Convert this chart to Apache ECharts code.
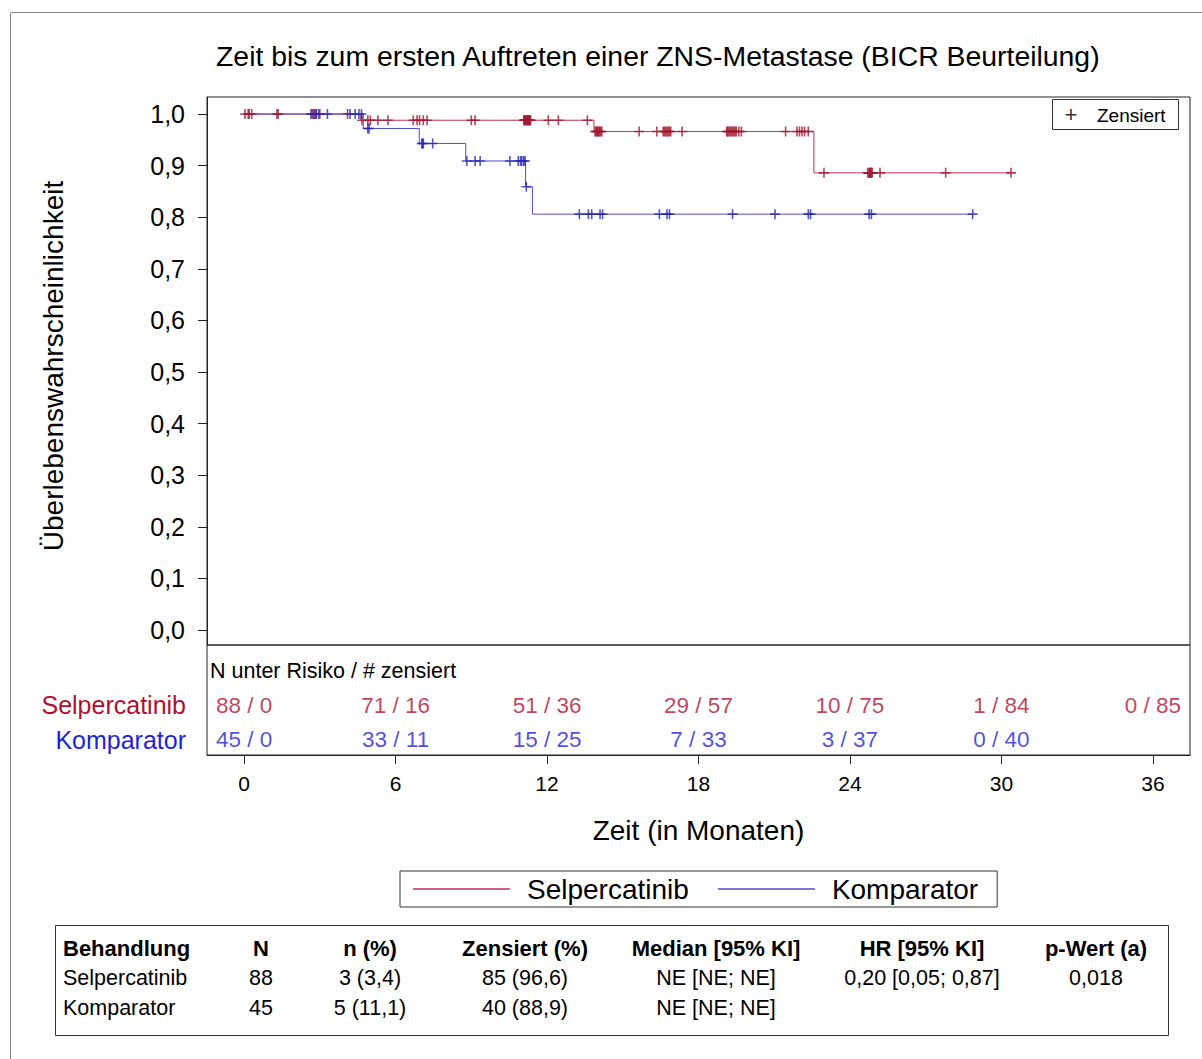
<!DOCTYPE html>
<html>
<head>
<meta charset="utf-8">
<script src="https://cdn.jsdelivr.net/npm/echarts@6/dist/echarts.min.js"></script>
<style>
  html, body { margin: 0; padding: 0; background: #fff; }
  #chart { width: 1202px; height: 1059px; }
</style>
</head>
<body>
<div id="chart"></div>
<script>
// ---- Data ----
const timeTicks = [0, 6, 12, 18, 24, 30, 36];
const survTicks = [0, 0.1, 0.2, 0.3, 0.4, 0.5, 0.6, 0.7, 0.8, 0.9, 1.0];
const groupNames = ['Selpercatinib', 'Komparator'];

// Kaplan-Meier steps (event times in months, survival after each step)
const selStepTimes = [0, 4.62, 13.86, 22.57];
const selStepSurv = [1.0, 0.988, 0.966, 0.886];
const kompStepTimes = [0, 4.72, 6.94, 8.78, 11.15, 11.42];
const kompStepSurv = [1.0, 0.972, 0.943, 0.909, 0.859, 0.806];

// Censoring times (months)
const selCensored = [
  0.04, 0.16, 0.2, 0.3, 1.3, 1.35, 2.7, 2.8, 2.85, 3.0, 4.1,
  4.67, 4.9, 5.0, 5.3, 5.7,
  6.7, 6.85, 6.95, 7.1, 7.25, 9.0, 9.15,
  11.08, 11.1, 11.12, 11.15, 11.18, 11.2, 11.22, 11.25, 11.25, 11.28, 11.3, 11.32, 11.35,
  12.05, 12.45, 13.6, 13.9, 13.95, 13.98, 14.0, 14.05, 14.08, 14.12, 14.17,
  15.65, 16.35, 16.6, 16.65, 16.7, 16.75, 16.8, 16.85, 16.9, 17.35,
  19.12, 19.15, 19.2, 19.25, 19.3, 19.35, 19.4, 19.45, 19.5, 19.6, 19.7,
  21.45, 21.9, 22.0, 22.1, 22.2, 22.35, 22.97,
  24.7, 24.75, 24.78, 24.8, 24.82, 24.85, 24.88, 25.19, 27.79,
  30.38
];
const kompCensored = [
  2.65, 2.75, 2.85, 2.95, 3.3, 4.2, 4.4, 4.55, 4.65, 4.9, 4.95,
  7.04, 7.07, 7.1, 7.47, 8.82, 9.15, 9.35, 10.53, 10.86, 10.95, 11.0, 11.08, 11.13, 11.18,
  13.28, 13.64, 13.77, 14.1, 14.2, 16.45, 16.75, 16.85,
  19.35, 21.03, 22.35, 22.44,
  24.76, 24.85, 28.86
];

// Numbers at risk / censored at each tick
const riskSel = ['88 / 0', '71 / 16', '51 / 36', '29 / 57', '10 / 75', '1 / 84', '0 / 85'];
const riskKomp = ['45 / 0', '33 / 11', '15 / 25', '7 / 33', '3 / 37', '0 / 40'];

// Summary table
const tableHeader = ['Behandlung', 'N', 'n (%)', 'Zensiert (%)', 'Median [95% KI]', 'HR [95% KI]', 'p-Wert (a)'];
const tableRowSel = ['Selpercatinib', '88', '3 (3,4)', '85 (96,6)', 'NE [NE; NE]', '0,20 [0,05; 0,87]', '0,018'];
const tableRowKomp = ['Komparator', '45', '5 (11,1)', '40 (88,9)', 'NE [NE; NE]', '', ''];

// ---- Styling ----
const FONT = "'Liberation Sans', Arial, sans-serif";
const RED_LINE = '#c3304a';
const RED_MARK = '#a0182e';
const RED_TEXT = '#b0102e';
const BLUE_LINE = '#4c4cd6';
const BLUE_MARK = '#2828b4';
const BLUE_TEXT = '#1f1fd8';
const X_MIN = -1.47, X_MAX = 37.47;

function survivalAt(times, surv, t) {
  let s = surv[0];
  for (let i = 0; i < times.length; i++) if (times[i] <= t) s = surv[i];
  return s;
}
function stepLine(times, surv, censored) {
  const pts = times.map((t, i) => [t, surv[i]]);
  pts.push([Math.max(...censored), surv[surv.length - 1]]);
  return pts;
}
function censorPoints(times, surv, censored) {
  return censored.map(t => [t, survivalAt(times, surv, t)]);
}

const crossSymbol = 'path://M0,5L10,5M5,0L5,10';

// Summary table drawn as text elements
const colCenters = [null, 261, 370, 525, 716, 922, 1096];
const rowYs = [948, 978, 1008];
function tableTexts(row, y, bold) {
  return row.map((txt, i) => ({
    type: 'text',
    x: i === 0 ? 63 : colCenters[i],
    y: y,
    style: {
      text: txt,
      fill: '#000',
      font: (bold ? 'bold 22px ' : '21.5px ') + FONT,
      align: i === 0 ? 'left' : 'center',
      verticalAlign: 'middle'
    }
  }));
}

const chart = echarts.init(document.getElementById('chart'), null, { renderer: 'svg' });

chart.setOption({
  animation: false,
  backgroundColor: '#fff',
  textStyle: { fontFamily: FONT },
  title: {
    text: 'Zeit bis zum ersten Auftreten einer ZNS-Metastase (BICR Beurteilung)',
    left: 211,
    top: 37,
    textStyle: { fontFamily: FONT, fontSize: 28.4, fontWeight: 'normal', color: '#000' }
  },
  legend: {
    data: groupNames.map(n => ({ name: n, icon: 'rect' })),
    left: 400,
    top: 871,
    orient: 'horizontal',
    itemWidth: 97,
    itemHeight: 1.5,
    itemGap: 29,
    padding: [4, 19, 4, 13],
    borderColor: '#333',
    borderWidth: 1,
    textStyle: { fontFamily: FONT, fontSize: 28, color: '#000', padding: [0, 0, 0, 12] }
  },
  grid: [
    { left: 207, top: 97, width: 983, height: 548, show: true, borderColor: '#222', borderWidth: 1, backgroundColor: 'transparent' },
    { left: 207, top: 645, width: 983, height: 110, show: true, borderColor: '#222', borderWidth: 1, backgroundColor: 'transparent' }
  ],
  xAxis: [
    {
      gridIndex: 0, type: 'value', min: X_MIN, max: X_MAX,
      axisLine: { show: false }, axisTick: { show: false }, axisLabel: { show: false }, splitLine: { show: false }
    },
    {
      gridIndex: 1, type: 'value', min: X_MIN, max: X_MAX, position: 'bottom',
      axisLine: { show: true, onZero: false, lineStyle: { color: '#222', width: 1 } },
      axisTick: { show: true, customValues: timeTicks, length: 9, lineStyle: { color: '#222' } },
      axisLabel: { show: true, customValues: timeTicks, fontSize: 21, color: '#000', margin: 18, fontFamily: FONT },
      splitLine: { show: false },
      name: 'Zeit (in Monaten)',
      nameLocation: 'middle',
      nameGap: 61,
      nameTextStyle: { fontSize: 28, color: '#000', fontFamily: FONT }
    }
  ],
  yAxis: [
    {
      gridIndex: 0, type: 'value', min: -0.029, max: 1.033,
      axisLine: { show: true, onZero: false, lineStyle: { color: '#222' } },
      axisTick: { show: true, customValues: survTicks, length: 9, lineStyle: { color: '#222' } },
      axisLabel: {
        show: true, customValues: survTicks, fontSize: 25, color: '#000', margin: 22, fontFamily: FONT,
        formatter: v => v.toFixed(1).replace('.', ',')
      },
      splitLine: { show: false },
      name: 'Überlebenswahrscheinlichkeit',
      nameLocation: 'middle',
      nameGap: 140,
      nameTextStyle: { fontSize: 28, color: '#000', fontFamily: FONT, padding: [0, 0, 0, 10] }
    },
    {
      gridIndex: 1, type: 'value', min: 0.25, max: 3.44, inverse: true,
      axisLine: { show: false, onZero: false }, axisTick: { show: false }, splitLine: { show: false },
      axisLabel: {
        show: true, customValues: [2, 3], margin: 21, fontFamily: FONT,
        formatter: v => (v === 2 ? '{s|' + groupNames[0] + '}' : '{k|' + groupNames[1] + '}'),
        rich: {
          s: { fontSize: 25, color: RED_TEXT, fontFamily: FONT },
          k: { fontSize: 25, color: BLUE_TEXT, fontFamily: FONT }
        }
      }
    }
  ],
  series: [
    {
      name: 'Selpercatinib', type: 'line', xAxisIndex: 0, yAxisIndex: 0, step: 'end',
      symbol: 'none', lineStyle: { color: RED_LINE, width: 1 }, itemStyle: { color: RED_LINE },
      data: stepLine(selStepTimes, selStepSurv, selCensored), z: 2
    },
    {
      name: 'Komparator', type: 'line', xAxisIndex: 0, yAxisIndex: 0, step: 'end',
      symbol: 'none', lineStyle: { color: BLUE_LINE, width: 1 }, itemStyle: { color: BLUE_LINE },
      data: stepLine(kompStepTimes, kompStepSurv, kompCensored), z: 2
    },
    {
      name: 'Zensiert Selpercatinib', type: 'scatter', xAxisIndex: 0, yAxisIndex: 0,
      symbol: crossSymbol, symbolSize: [10, 10],
      itemStyle: { color: 'none', borderColor: RED_MARK, borderWidth: 1.6 },
      data: censorPoints(selStepTimes, selStepSurv, selCensored), z: 3
    },
    {
      name: 'Zensiert Komparator', type: 'scatter', xAxisIndex: 0, yAxisIndex: 0,
      symbol: crossSymbol, symbolSize: [10, 10],
      itemStyle: { color: 'none', borderColor: BLUE_MARK, borderWidth: 1.6 },
      data: censorPoints(kompStepTimes, kompStepSurv, kompCensored), z: 4
    },
    {
      name: 'Risiko Selpercatinib', type: 'scatter', xAxisIndex: 1, yAxisIndex: 1,
      symbolSize: 0, silent: true,
      label: { show: true, position: 'inside', formatter: p => p.data[2], color: RED_TEXT, fontSize: 22.5, fontFamily: FONT },
      data: riskSel.map((s, i) => [timeTicks[i], 2, s])
    },
    {
      name: 'Risiko Komparator', type: 'scatter', xAxisIndex: 1, yAxisIndex: 1,
      symbolSize: 0, silent: true,
      label: { show: true, position: 'inside', formatter: p => p.data[2], color: BLUE_TEXT, fontSize: 22.5, fontFamily: FONT },
      data: riskKomp.map((s, i) => [timeTicks[i], 3, s])
    }
  ],
  graphic: [
    // outer frame
    { type: 'rect', shape: { x: 10.5, y: 12.5, width: 1210, height: 1100 }, style: { fill: 'none', stroke: '#8a8a8a', lineWidth: 1 }, silent: true },
    // risk table header
    { type: 'text', x: 210, y: 671, style: { text: 'N unter Risiko / # zensiert', fill: '#000', font: '21.5px ' + FONT, align: 'left', verticalAlign: 'middle' } },
    // censoring legend
    { type: 'rect', shape: { x: 1052.5, y: 99.5, width: 126, height: 30 }, style: { fill: '#fff', stroke: '#333', lineWidth: 1 }, z: 10 },
    { type: 'text', x: 1071, y: 114, z: 11, style: { text: '+', fill: '#333', font: '22px ' + FONT, align: 'center', verticalAlign: 'middle' } },
    { type: 'text', x: 1097, y: 115, z: 11, style: { text: 'Zensiert', fill: '#000', font: '19px ' + FONT, align: 'left', verticalAlign: 'middle' } },
    // summary table
    { type: 'rect', shape: { x: 55.5, y: 925.5, width: 1113, height: 110 }, style: { fill: 'none', stroke: '#333', lineWidth: 1 } }
  ]
    .concat(tableTexts(tableHeader, rowYs[0], true))
    .concat(tableTexts(tableRowSel, rowYs[1], false))
    .concat(tableTexts(tableRowKomp, rowYs[2], false))
});
</script>
</body>
</html>
